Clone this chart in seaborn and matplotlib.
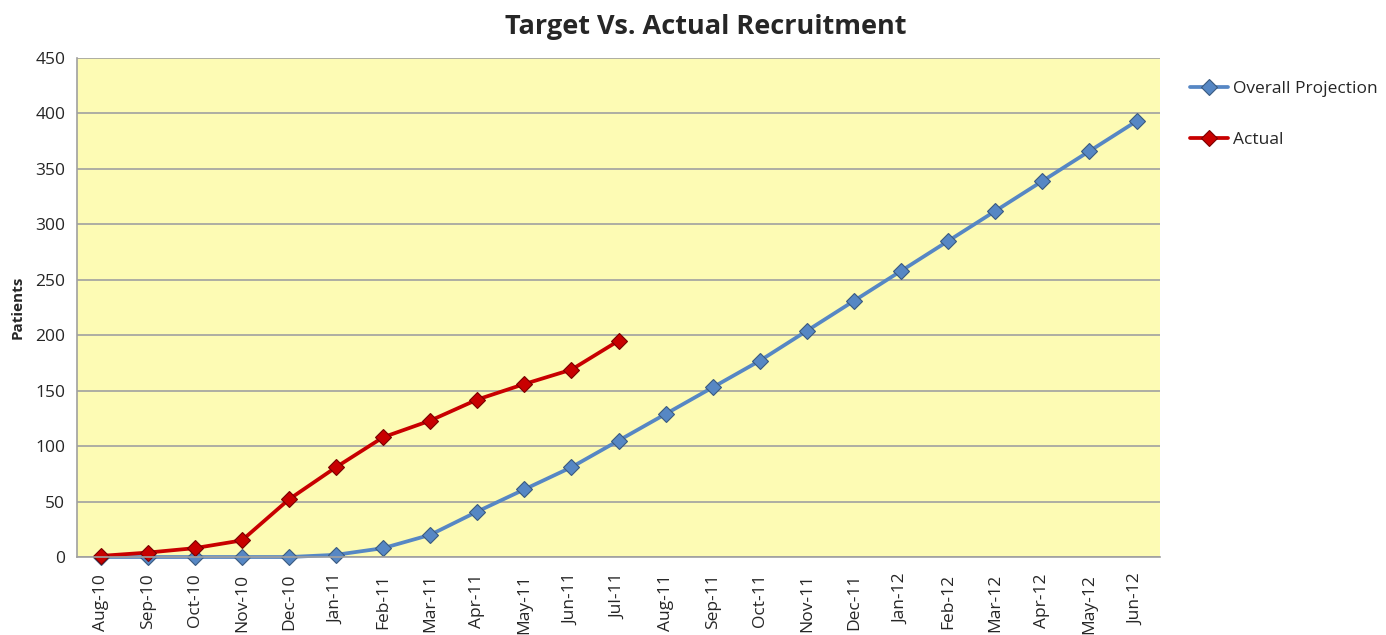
"""Target vs actual recruitment chart."""

import numpy as np
import pandas as pd
import matplotlib

matplotlib.use("Agg")
import matplotlib.pyplot as plt
import seaborn as sns


months = [
    "Aug-10", "Sep-10", "Oct-10", "Nov-10", "Dec-10", "Jan-11", "Feb-11",
    "Mar-11", "Apr-11", "May-11", "Jun-11", "Jul-11", "Aug-11", "Sep-11",
    "Oct-11", "Nov-11", "Dec-11", "Jan-12", "Feb-12", "Mar-12", "Apr-12",
    "May-12", "Jun-12",
]
projection = [0, 0, 0, 0, 0, 2, 8, 20, 41, 61, 81, 105, 129, 153, 177,
              204, 231, 258, 285, 312, 339, 366, 393]
actual = [1, 4, 8, 15, 52, 81, 108, 123, 142, 156, 169, 195]

BLUE = "#5687c4"
RED = "#c80000"
YELLOW = "#fdfbb4"


def main() -> None:
    sns.set_style("white")
    plt.rcParams["font.family"] = ["Open Sans", "DejaVu Sans"]

    proj_df = pd.DataFrame({"pos": np.arange(len(projection)), "value": projection})
    act_df = pd.DataFrame({"pos": np.arange(len(actual)), "value": actual})

    fig = plt.figure(figsize=(13.86, 6.35), dpi=100)
    ax = fig.add_axes([0.0556, 0.1228, 0.7814, 0.7859])
    ax.set_facecolor(YELLOW)

    sns.lineplot(data=proj_df, x="pos", y="value", ax=ax, color=BLUE,
                 linewidth=2.7, marker="D", markersize=8.5,
                 markeredgecolor="#3a5a80", markeredgewidth=0.8,
                 label="Overall Projection", clip_on=False)
    sns.lineplot(data=act_df, x="pos", y="value", ax=ax, color=RED,
                 linewidth=2.7, marker="D", markersize=8.5,
                 markeredgecolor="#7a0000", markeredgewidth=0.8,
                 label="Actual", clip_on=False)

    ax.set_xlim(-0.5, len(months) - 0.5)
    ax.set_ylim(0, 450)
    ax.set_yticks(np.arange(0, 451, 50))
    ax.yaxis.grid(True, color="#a0a0a0", linewidth=1.2)
    ax.set_axisbelow(True)

    ax.set_xticks(np.arange(len(months)))
    ax.set_xticklabels(months, rotation=90, fontsize=12.5)
    ax.set_xticks(np.arange(-0.5, len(months), 1), minor=True)
    ax.tick_params(axis="x", which="major", length=0, pad=12)
    ax.tick_params(axis="x", which="minor", length=6, color="#a0a0a0", direction="out")
    ax.tick_params(axis="y", length=5, color="#a0a0a0", labelsize=12.5, direction="out")

    for side in ["top", "right"]:
        ax.spines[side].set_visible(False)
    for side in ["left", "bottom"]:
        ax.spines[side].set_color("#a0a0a0")
        ax.spines[side].set_linewidth(1.2)

    ax.set_xlabel("")
    ax.set_ylabel("Patients", fontsize=11, fontweight="bold", labelpad=8)
    fig.text(0.509, 0.958, "Target Vs. Actual Recruitment", fontsize=19.5,
             fontweight="bold", ha="center", va="center")

    ax.legend(loc="upper left", bbox_to_anchor=(1.013, 0.985), frameon=False,
              fontsize=12.5, labelspacing=2.0, handlelength=2.2, handletextpad=0.3)

    fig.savefig("out.png", dpi=100)
    plt.close(fig)


if __name__ == "__main__":
    main()
